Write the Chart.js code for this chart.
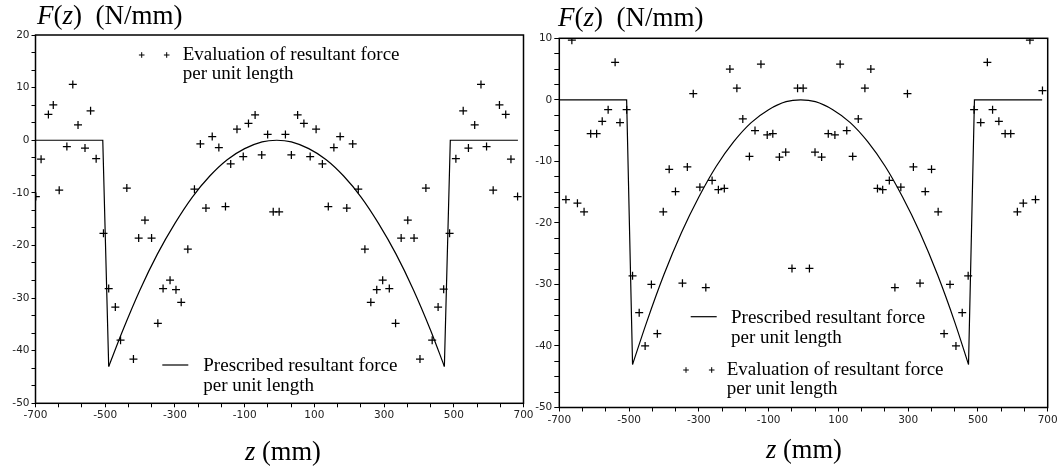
<!DOCTYPE html>
<html>
<head>
<meta charset="utf-8">
<script src="https://cdn.jsdelivr.net/npm/chart.js@4.4.1/dist/chart.umd.min.js"></script>
<style>
  body { margin: 0; width: 1062px; height: 468px; position: relative; background: #fff; overflow: hidden; }
  .panel { position: absolute; top: 0; height: 468px; }
  .lbl { position: absolute; font-family: "Liberation Serif", "Times New Roman", serif; color: #000; white-space: nowrap; line-height: 1; }
</style>
</head>
<body>
<div class="panel" style="left:0;width:540px"><canvas id="left" width="540" height="468"></canvas></div>
<div class="panel" style="left:525px;width:537px"><canvas id="right" width="537" height="468"></canvas></div>

<div class="lbl" style="left:37px;top:2px;font-size:27px"><i>F</i>(<i>z</i>)&nbsp;&nbsp;(N/mm)</div>
<div class="lbl" style="left:558px;top:4px;font-size:27px"><i>F</i>(<i>z</i>)&nbsp;&nbsp;(N/mm)</div>
<div class="lbl" style="left:245px;top:438px;font-size:26.5px"><i>z</i> (mm)</div>
<div class="lbl" style="left:766px;top:436px;font-size:26.5px"><i>z</i> (mm)</div>

<script>
// tick labels
const xMajorTicks = [-700, -500, -300, -100, 100, 300, 500, 700];
const yMajorLeft = [20, 10, 0, -10, -20, -30, -40, -50];
const yMajorRight = [10, 0, -10, -20, -30, -40, -50];

// prescribed resultant force (same in both panels)
const stepLeftZ = [-700, -507, -490];
const stepLeftF = [0, 0, -43];
const curveZ = [-490, -450, -400, -350, -300, -250, -200, -150, -100, -50, -8, 34, 84, 134, 184, 234, 284, 334, 384, 434, 473];
const curveF = [-43, -36.2, -28.4, -21.6, -15.8, -10.8, -6.8, -3.7, -1.6, -0.3, 0, -0.3, -1.6, -3.7, -6.8, -10.8, -15.8, -21.6, -28.4, -36.2, -43];
const stepRightZ = [473, 490, 684];
const stepRightF = [-43, 0, 0];

// evaluation, left panel
const evalLeftZ = [-699, -684, -663, -649, -632, -610, -593, -578, -558, -542, -526, -505, -490, -471, -456, -438, -419, -404, -386, -367,
  -349, -334, -314, -297, -282, -263, -244, -227, -211, -193, -174, -155, -140, -122, -104, -89, -70, -51, -34, -18,
  -1, 17, 34, 52, 70, 88, 105, 123, 140, 156, 174, 193, 210, 226, 245, 262, 279, 296, 315, 333,
  349, 368, 386, 403, 420, 438, 455, 471, 488, 506, 527, 542, 560, 578, 594, 613, 631, 649, 664, 683];
const evalLeftF = [-10.7, -3.6, 4.9, 6.7, -9.5, -1.2, 10.6, 2.9, -1.5, 5.6, -3.5, -17.7, -28.2, -31.7, -38.0, -9.1, -41.6, -18.6, -15.2, -18.6,
  -34.8, -28.2, -26.6, -28.4, -30.8, -20.7, -9.3, -0.7, -12.9, 0.7, -1.4, -12.6, -4.5, 2.1, -3.1, 3.2, 4.8, -2.8, 1.1, -13.6,
  -13.6, 1.1, -2.8, 4.8, 3.2, -3.1, 2.1, -4.5, -12.6, -1.4, 0.7, -12.9, -0.7, -9.3, -20.7, -30.8, -28.4, -26.6, -28.2, -34.8,
  -18.6, -15.2, -18.6, -41.6, -9.1, -38.0, -31.7, -28.3, -17.7, -3.5, 5.6, -1.5, 2.9, 10.6, -1.2, -9.5, 6.7, 4.9, -3.6, -10.7];

// evaluation, right panel
const evalRightZ = [-681, -664, -648, -629, -610, -593, -577, -560, -540, -526, -507, -490, -471, -454, -436, -419, -402, -385, -367, -347,
  -333, -316, -297, -280, -262, -244, -227, -211, -191, -174, -155, -139, -122, -104, -88, -69, -51, -33, -17, -1,
  17, 33, 52, 71, 90, 105, 124, 141, 157, 176, 193, 212, 227, 246, 262, 279, 298, 315, 334, 349,
  367, 386, 403, 420, 437, 455, 472, 489, 508, 527, 542, 560, 578, 594, 613, 630, 649, 665, 685];
const evalRightF = [-16.2, 9.7, -16.8, -18.2, -5.5, -5.5, -3.5, -1.6, 6.1, -3.7, -1.6, -28.6, -34.6, -40.0, -30.0, -38.0, -18.2, -11.3, -14.9, -29.8,
  -10.9, 1.0, -14.2, -30.5, -13.1, -14.6, -14.4, 5.0, 1.9, -3.1, -9.2, -5.0, 5.8, -5.7, -5.5, -9.3, -8.5, -27.4, 1.9, 1.9,
  -27.4, -8.5, -9.3, -5.5, -5.7, 5.8, -5.0, -9.2, -3.1, 1.9, 5.0, -14.4, -14.6, -13.1, -30.5, -14.2, 1.0, -10.9, -29.8, -14.9,
  -11.3, -18.2, -38.0, -30.0, -40.0, -34.6, -28.6, -1.6, -3.7, 6.1, -1.6, -3.5, -5.5, -5.5, -18.2, -16.8, 9.7, -16.2, 1.5];

const pts = (xs, ys) => xs.map((x, i) => ({ x: x, y: ys[i] }));

// major ticks plus evenly spaced unlabelled ones between them
function withMinor(major, sub) {
  const out = [];
  for (let i = 0; i < major.length - 1; i++) {
    for (let k = 0; k < sub; k++) out.push(major[i] + (major[i + 1] - major[i]) * k / sub);
  }
  out.push(major[major.length - 1]);
  return out;
}

function isMajor(v, major) {
  return major.some(m => Math.abs(m - v) < 1e-6);
}

function drawCross(ctx, x, y, r) {
  ctx.beginPath();
  ctx.moveTo(x - r, y); ctx.lineTo(x + r, y);
  ctx.moveTo(x, y - r); ctx.lineTo(x, y + r);
  ctx.stroke();
}

function makeChart(id, cfg) {
  const tickFont = { family: 'DejaVu Sans', size: 10.5 };
  const framePlugin = {
    id: 'frame',
    afterDraw(chart) {
      const ctx = chart.ctx, a = chart.chartArea;
      ctx.save();
      ctx.strokeStyle = '#000';
      ctx.lineWidth = 1.5;
      ctx.strokeRect(a.left, a.top, a.right - a.left, a.bottom - a.top);

      // legend entries
      ctx.fillStyle = '#000';
      ctx.lineWidth = 1;
      ctx.font = '19px "Liberation Serif"';
      ctx.textBaseline = 'alphabetic';
      const ev = cfg.legendEval, pr = cfg.legendPres;
      drawCross(ctx, ev.x1, ev.y, 2.8);
      drawCross(ctx, ev.x2, ev.y, 2.8);
      ctx.fillText('Evaluation of resultant force', ev.tx, ev.ty);
      ctx.fillText('per unit length', ev.tx, ev.ty + 19.5);
      ctx.lineWidth = 1.2;
      ctx.beginPath();
      ctx.moveTo(pr.x1, pr.y); ctx.lineTo(pr.x2, pr.y);
      ctx.stroke();
      ctx.fillText('Prescribed resultant force', pr.tx, pr.ty);
      ctx.fillText('per unit length', pr.tx, pr.ty + 20);
      ctx.restore();
    }
  };

  return new Chart(document.getElementById(id), {
    type: 'scatter',
    data: {
      datasets: [
        {
          data: pts(cfg.evalZ, cfg.evalF),
          pointStyle: 'cross', pointRadius: 4, pointHoverRadius: 4,
          borderColor: '#000', borderWidth: 1.25, showLine: false
        },
        { data: pts(stepLeftZ, stepLeftF), showLine: true, pointRadius: 0, borderColor: '#000', borderWidth: 1.2, tension: 0 },
        { data: pts(curveZ, curveF), showLine: true, pointRadius: 0, borderColor: '#000', borderWidth: 1.2, cubicInterpolationMode: 'monotone' },
        { data: pts(stepRightZ, stepRightF), showLine: true, pointRadius: 0, borderColor: '#000', borderWidth: 1.2, tension: 0 }
      ]
    },
    options: {
      responsive: false,
      animation: false,
      devicePixelRatio: 1,
      events: [],
      layout: { padding: cfg.padding },
      plugins: { legend: { display: false }, tooltip: { enabled: false } },
      scales: {
        x: {
          type: 'linear', min: -700, max: 700,
          afterBuildTicks: s => { s.ticks = withMinor(xMajorTicks, 3).map(v => ({ value: v })); },
          afterFit: s => { s.height = 20; },
          border: { display: false },
          grid: { display: true, drawOnChartArea: false, drawTicks: true, tickLength: 4, color: '#000', lineWidth: 1 },
          ticks: {
            autoSkip: false, maxRotation: 0, padding: 2, color: '#222', font: tickFont,
            callback: v => isMajor(v, xMajorTicks) ? String(Math.round(v)) : ''
          }
        },
        y: {
          type: 'linear', min: cfg.yMajor[cfg.yMajor.length - 1], max: cfg.yMajor[0],
          afterBuildTicks: s => { s.ticks = withMinor(cfg.yMajor, cfg.ySub).map(v => ({ value: v })); },
          afterFit: s => { s.width = cfg.yWidth; },
          border: { display: false },
          grid: { display: true, drawOnChartArea: false, drawTicks: true, tickLength: cfg.yTick, color: '#000', lineWidth: 1 },
          ticks: {
            autoSkip: false, padding: 2, color: '#222', font: tickFont,
            callback: v => isMajor(v, cfg.yMajor) ? String(Math.round(v)) : ''
          }
        }
      }
    },
    plugins: [framePlugin]
  });
}

makeChart('left', {
  evalZ: evalLeftZ, evalF: evalLeftF,
  yMajor: yMajorLeft, ySub: 3, yTick: 4, yWidth: 35.5,
  padding: { left: 0, right: 16.5, top: 35, bottom: 44.7 },
  legendEval: { x1: 141.7, x2: 166.7, y: 55, tx: 182.7, ty: 59.6 },
  legendPres: { x1: 162.3, x2: 188.3, y: 365, tx: 203.3, ty: 371.3 }
});

makeChart('right', {
  evalZ: evalRightZ, evalF: evalRightF,
  yMajor: yMajorRight, ySub: 4, yTick: 5, yWidth: 34.3,
  padding: { left: 0, right: 14.3, top: 38.3, bottom: 40.5 },
  legendEval: { x1: 161, x2: 186.7, y: 370, tx: 201.7, ty: 374.6 },
  legendPres: { x1: 165.7, x2: 191.7, y: 316.7, tx: 206, ty: 323 }
});
</script>
</body>
</html>
